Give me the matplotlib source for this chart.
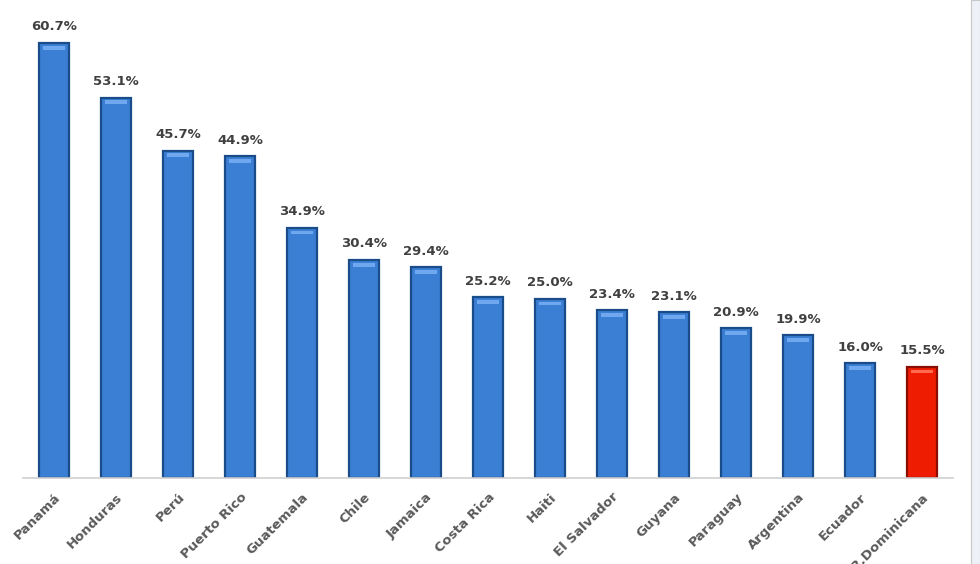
import matplotlib.pyplot as plt
from matplotlib.patches import Rectangle

paises = ["Panamá", "Honduras", "Perú", "Puerto Rico", "Guatemala", "Chile",
          "Jamaica", "Costa Rica", "Haiti", "El Salvador", "Guyana", "Paraguay",
          "Argentina", "Ecuador", "R.Dominicana"]
valores = [60.7, 53.1, 45.7, 44.9, 34.9, 30.4, 29.4, 25.2, 25.0, 23.4, 23.1,
           20.9, 19.9, 16.0, 15.5]
resaltado = "R.Dominicana"

azul = "#3A7FD4"
rojo = "#EE1C00"

fig = plt.figure(figsize=(9.8, 5.64), dpi=100)
ax = fig.add_axes([0.0235, 0.1525, 0.949, 0.8385])

es_rd = [p == resaltado for p in paises]
colores = [rojo if r else azul for r in es_rd]
bordes = ["#8A0E00" if r else "#1B4C8A" for r in es_rd]
brillos = ["#FF6A50" if r else "#6FA8EE" for r in es_rd]
x = list(range(len(paises)))
barras = ax.bar(x, valores, width=0.48, color=colores, edgecolor=bordes,
                linewidth=1.6, zorder=2)
# brillo en la parte superior de cada barra (efecto biselado)
ax.bar(x, 0.5, bottom=[v - 0.9 for v in valores], width=0.36, color=brillos,
       linewidth=0, zorder=3)

for b, v in zip(barras, valores):
    ax.annotate(f"{v:.1f}%", (b.get_x() + b.get_width() / 2, v),
                xytext=(0, 7), textcoords="offset points",
                ha="center", va="bottom", fontsize=9.5, fontweight="bold",
                color="#404040")

ax.set_xlim(-0.5, len(paises) - 0.5)
ax.set_ylim(0, 66)
ax.set_yticks([])
ax.set_xticks(x)
ax.set_xticklabels(paises, rotation=45, ha="right", rotation_mode="anchor",
                   fontsize=9.5, color="#595959", fontweight="bold")
ax.tick_params(axis="x", length=0, pad=9)
for s in ["top", "right", "left"]:
    ax.spines[s].set_visible(False)
ax.spines["bottom"].set_color("#D0D0D0")
ax.spines["bottom"].set_linewidth(1.2)

# franja lateral derecha
fig.patches.append(Rectangle((971 / 980, 0), 9 / 980, 1, transform=fig.transFigure,
                             facecolor="#EEF2F8", edgecolor="#C8C8C8", linewidth=0.8))

fig.savefig("out.png", dpi=100)
